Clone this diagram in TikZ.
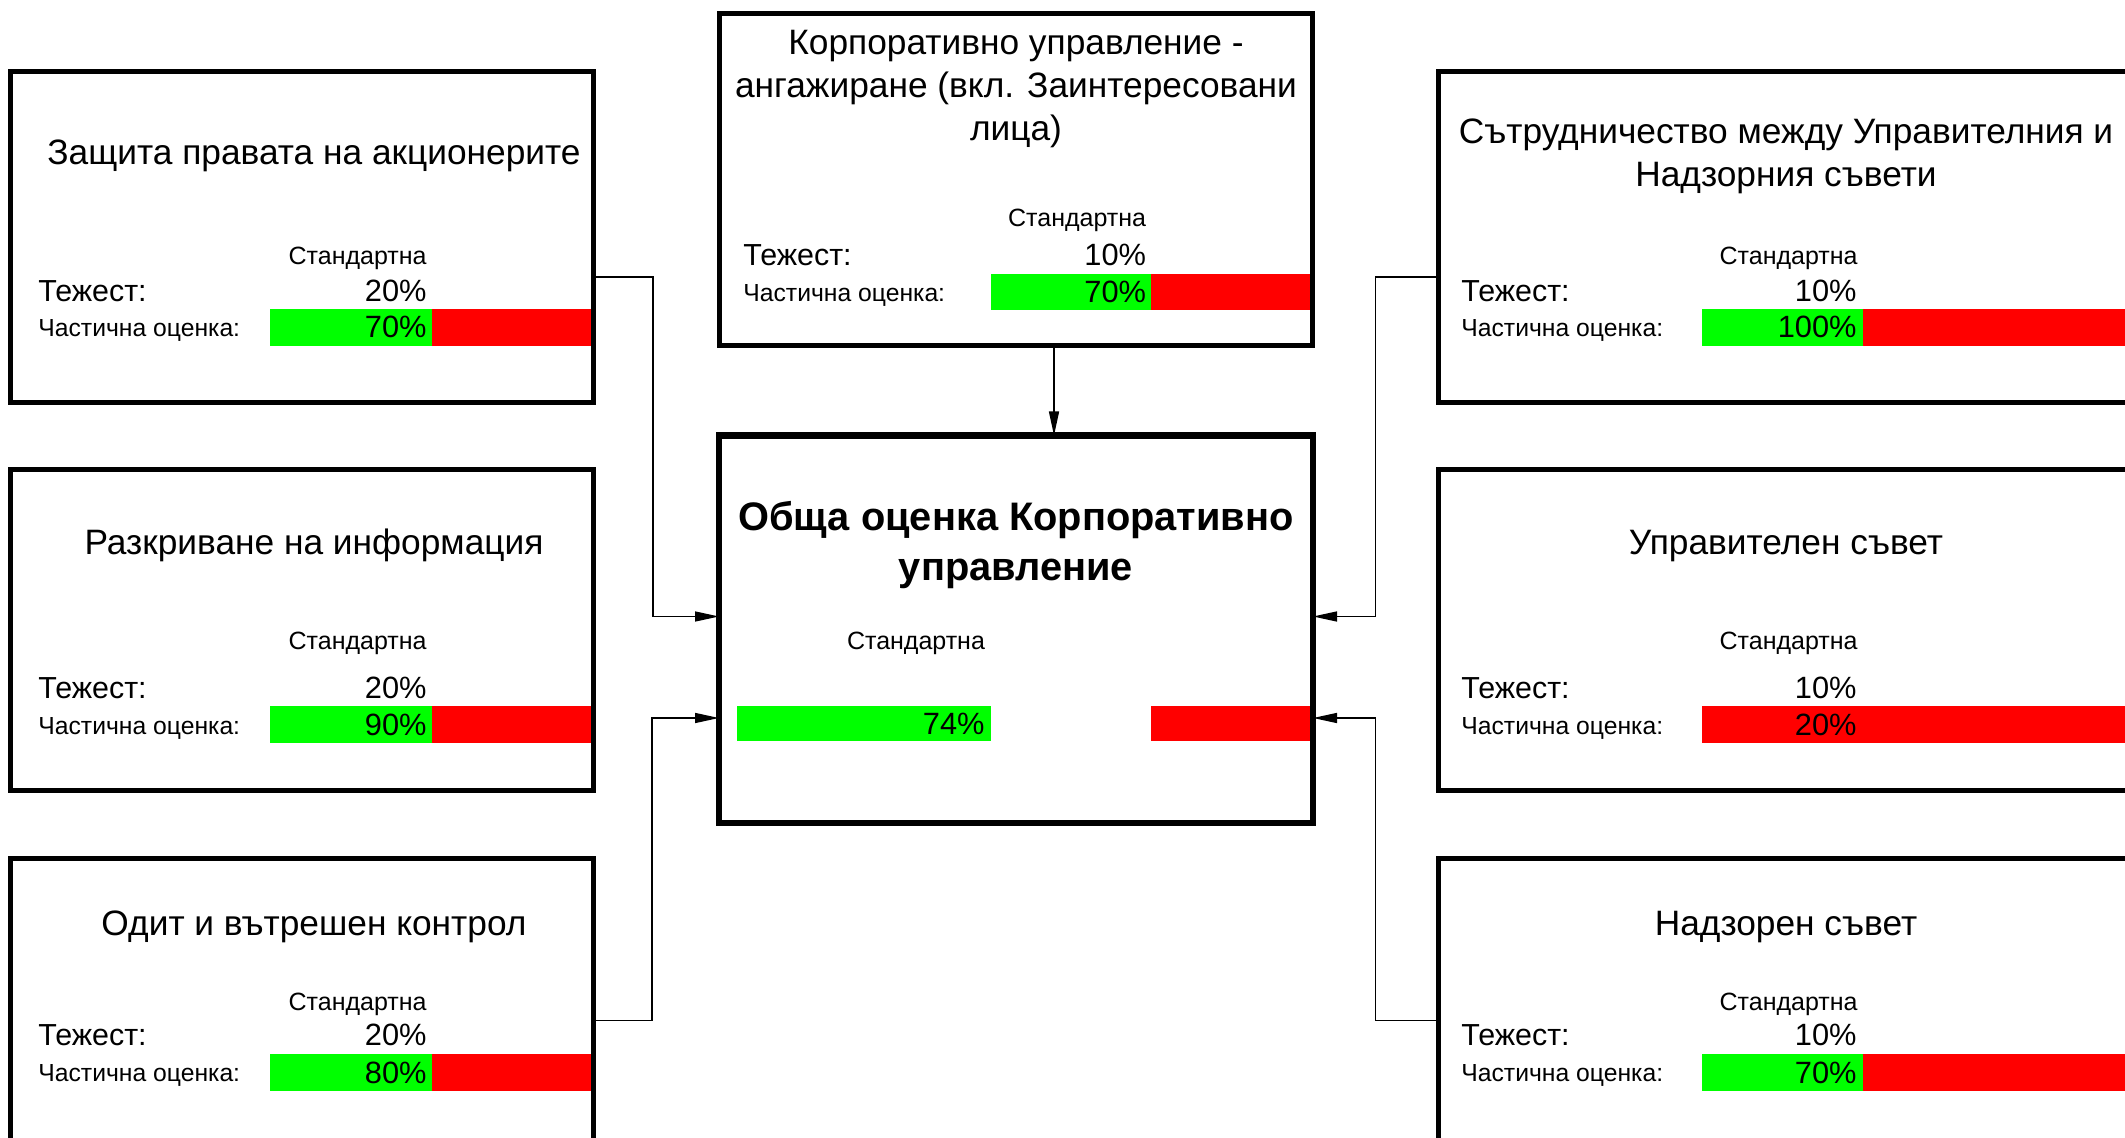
\documentclass[tikz,border=0pt]{standalone}
\usepackage{fontspec}
\setmainfont{Liberation Sans}
\usetikzlibrary{arrows.meta}
\definecolor{okgreen}{RGB}{0,255,0}
\definecolor{badred}{RGB}{255,0,0}
\tikzset{
  box/.style={draw, line width=2.5bp, inner sep=0pt, outer sep=0pt},
  bigbox/.style={draw, line width=3.3bp, inner sep=0pt, outer sep=0pt},
  title/.style={font=\fontsize{17.65bp}{21.5bp}\selectfont, align=center, inner sep=0pt},
  headline/.style={font=\bfseries\fontsize{19.9bp}{25bp}\selectfont, align=center, inner sep=0pt},
  std/.style={font=\fontsize{12.5bp}{15bp}\selectfont, inner sep=0pt, anchor=base east},
  wt/.style={font=\fontsize{15.2bp}{17bp}\selectfont, inner sep=0pt, anchor=base west},
  wval/.style={font=\fontsize{15.4bp}{17bp}\selectfont, inner sep=0pt, anchor=base east},
  part/.style={font=\fontsize{12.35bp}{14bp}\selectfont, inner sep=0pt, anchor=base west},
  pct/.style={font=\fontsize{15.4bp}{18bp}\selectfont, inner sep=0pt, anchor=base east},
  okbar/.style={fill=okgreen},
  badbar/.style={fill=badred},
  conn/.style={line width=0.7bp, -{Triangle[length=12bp,width=5bp]}}
}
\begin{document}
\begin{tikzpicture}[x=0.5bp,y=-0.5bp]
\useasboundingbox (0,0) rectangle (2125,1138);
\clip (0,0) rectangle (2125,1138);
\fill[white] (0,0) rectangle (2125,1138);

% bars
\fill[okbar] (270,309) rectangle (432,346);  \fill[badbar] (432,309) rectangle (594,346); % zashtita
\fill[okbar] (270,706) rectangle (432,743);  \fill[badbar] (432,706) rectangle (594,743); % razkr
\fill[okbar] (270,1054) rectangle (432,1091); \fill[badbar] (432,1054) rectangle (594,1091); % odit
\fill[okbar] (991,274) rectangle (1150.5,310); \fill[badbar] (1150.5,274) rectangle (1312,310); % angazh
\fill[okbar] (737,706) rectangle (991,741);  \fill[badbar] (1150.5,706) rectangle (1313,741); % obshta
\fill[okbar] (1702,309) rectangle (1863,346); \fill[badbar] (1863,309) rectangle (2140,346); % satr
\fill[badbar] (1702,706) rectangle (2140,743); % upr
\fill[okbar] (1702,1054) rectangle (1863,1091); \fill[badbar] (1863,1054) rectangle (2140,1091); % nadz

% boxes
\node[box, minimum width=291.25bp, minimum height=165bp] (zashtita) at (302.25,237) {};
\node[box, minimum width=291.25bp, minimum height=160bp] (razkr) at (302.25,630) {};
\node[box, minimum width=291.25bp, minimum height=160bp] (odit) at (302.25,1019) {};
\node[box, minimum width=296.5bp, minimum height=166bp] (angazh) at (1015.5,179.5) {};
\node[bigbox, minimum width=297bp, minimum height=193.75bp] (obshta) at (1016,629.25) {};
\node[box, minimum width=347.75bp, minimum height=165bp] (satr) at (1786.25,237) {};
\node[box, minimum width=347.75bp, minimum height=160bp] (upr) at (1786.25,630) {};
\node[box, minimum width=347.75bp, minimum height=160bp] (nadz) at (1786.25,1019) {};

% zashtita
\node[title, anchor=base] (t1) at (314,165) {Защита правата на акционерите};
\node[std] (s1) at (427,265) {Стандартна};
\node[wt] (w1) at (38,301.5) {Тежест:};
\node[wval] (v1) at (427,301.5) {20\%};
\node[part] (p1) at (38,336.5) {Частична оценка:};
\node[pct] (r1) at (427,338) {70\%};

% razkr
\node[title, anchor=base] (t2) at (314,555) {Разкриване на информация};
\node[std] (s2) at (427,650) {Стандартна};
\node[wt] (w2) at (38,698.5) {Тежест:};
\node[wval] (v2) at (427,698.5) {20\%};
\node[part] (p2) at (38,734.5) {Частична оценка:};
\node[pct] (r2) at (427,735) {90\%};

% odit
\node[title, anchor=base] (t3) at (314,935) {Одит и вътрешен контрол};
\node[std] (s3) at (427,1010) {Стандартна};
\node[wt] (w3) at (38,1045.5) {Тежест:};
\node[wval] (v3) at (427,1045.5) {20\%};
\node[part] (p3) at (38,1081.5) {Частична оценка:};
\node[pct] (r3) at (427,1083) {80\%};

% angazh
\node[title, anchor=base] (t4) at (1016,141) {Корпоративно управление -\\ангажиране (вкл. Заинтересовани\\лица)};
\node[std] (s4) at (1146.5,227) {Стандартна};
\node[wt] (w4) at (743,265.5) {Тежест:};
\node[wval] (v4) at (1146.5,265.5) {10\%};
\node[part] (p4) at (743,301.5) {Частична оценка:};
\node[pct] (r4) at (1146.5,302.5) {70\%};

% obshta
\node[headline, anchor=base] (t5) at (1016,581) {Обща оценка Корпоративно\\управление};
\node[std, anchor=base] (s5) at (916,650) {Стандартна};
\node[pct] (r5) at (985,734) {74\%};

% satr
\node[title, anchor=base] (t6) at (1786,187) {Сътрудничество между Управителния и\\Надзорния съвети};
\node[std] (s6) at (1858,265) {Стандартна};
\node[wt] (w6) at (1461,301.5) {Тежест:};
\node[wval] (v6) at (1857,301.5) {10\%};
\node[part] (p6) at (1461,336.5) {Частична оценка:};
\node[pct] (r6) at (1857,338) {100\%};

% upr
\node[title, anchor=base] (t7) at (1786,555) {Управителен съвет};
\node[std] (s7) at (1858,650) {Стандартна};
\node[wt] (w7) at (1461,698.5) {Тежест:};
\node[wval] (v7) at (1857,698.5) {10\%};
\node[part] (p7) at (1461,734.5) {Частична оценка:};
\node[pct] (r7) at (1857,735) {20\%};

% nadz
\node[title, anchor=base] (t8) at (1786,935) {Надзорен съвет};
\node[std] (s8) at (1858,1010) {Стандартна};
\node[wt] (w8) at (1461,1045.5) {Тежест:};
\node[wval] (v8) at (1857,1045.5) {10\%};
\node[part] (p8) at (1461,1081.5) {Частична оценка:};
\node[pct] (r8) at (1857,1083) {70\%};

% connectors
\coordinate (bendL1) at (653,277);
\coordinate (bendL2) at (653,616.5);
\coordinate (bendL3) at (652,1020.5);
\coordinate (bendL4) at (652,718);
\coordinate (bendR1) at (1375.5,277);
\coordinate (bendR2) at (1375.5,616.5);
\coordinate (bendR3) at (1375.5,1020.5);
\coordinate (bendR4) at (1375.5,718);
\coordinate (topx) at (1054,0);
\draw[conn] (zashtita.east |- bendL1) -- (bendL1) -- (bendL2) -- (obshta.west |- bendL2);
\draw[conn] (odit.east |- bendL3) -- (bendL3) -- (bendL4) -- (obshta.west |- bendL4);
\draw[conn] (satr.west |- bendR1) -- (bendR1) -- (bendR2) -- (obshta.east |- bendR2);
\draw[conn] (nadz.west |- bendR3) -- (bendR3) -- (bendR4) -- (obshta.east |- bendR4);
\draw[conn] (angazh.south -| topx) -- (obshta.north -| topx);
\end{tikzpicture}
\end{document}
